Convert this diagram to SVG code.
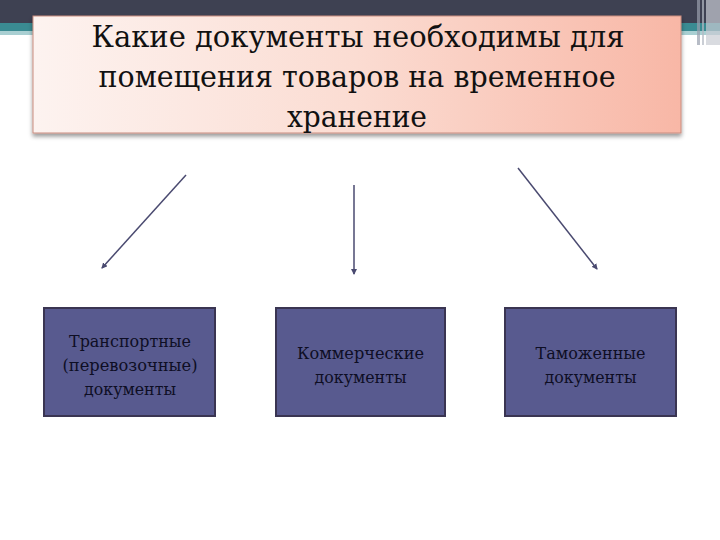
<svg xmlns="http://www.w3.org/2000/svg" width="720" height="540" viewBox="0 0 720 540">
<style>
.title{font-family:"DejaVu Serif",serif;font-size:30px;fill:#111;text-anchor:middle}
.box{fill:#585a8f;stroke:#3a3552;stroke-width:2}
.lbl{font-family:"DejaVu Serif",serif;font-size:16.5px;fill:#0e0e24;text-anchor:middle}
.con{stroke:#4a4a70;stroke-width:1.5;fill:none;marker-end:url(#ah)}
</style>
<defs>
<linearGradient id="tg" x1="0" y1="0" x2="1" y2="0">
<stop offset="0" stop-color="#fdf3f0"/>
<stop offset="0.5" stop-color="#fbdcd2"/>
<stop offset="1" stop-color="#f8b7a6"/>
</linearGradient>
<filter id="sh" x="-5%" y="-10%" width="110%" height="130%">
<feDropShadow dx="0" dy="3" stdDeviation="2" flood-color="#000" flood-opacity="0.4"/>
</filter>
<marker id="ah" markerWidth="6" markerHeight="6" refX="5" refY="3" orient="auto" markerUnits="userSpaceOnUse">
<path d="M0,0 L6,3 L0,6 z" fill="#4a4a70"/>
</marker>
</defs>
<rect width="720" height="540" fill="#ffffff"/>
<rect x="0" y="0" width="720" height="23" fill="#3e4152"/>
<rect x="0" y="23" width="720" height="8" fill="#3a8b92"/>
<rect x="0" y="31" width="720" height="4" fill="#a9cfd2"/>
<g opacity="0.7">
<rect x="697" y="0" width="3" height="45" fill="#9aa0ae"/>
<rect x="702" y="0" width="2" height="45" fill="#b5bac4"/>
<rect x="706" y="0" width="14" height="45" fill="#c9ccd4"/>
</g>
<g id="title">
<rect x="33" y="16" width="648" height="117" fill="url(#tg)" stroke="#c98d80" stroke-width="1" filter="url(#sh)"/>
<text class="title" x="358" y="47" textLength="533" lengthAdjust="spacingAndGlyphs">Какие документы необходимы для</text>
<text class="title" x="357" y="87" textLength="517" lengthAdjust="spacingAndGlyphs">помещения товаров на временное</text>
<text class="title" x="357" y="127" textLength="140" lengthAdjust="spacingAndGlyphs">хранение</text>
</g>
<g id="connectors">
<line class="con" x1="186" y1="175" x2="102" y2="268"/>
<line class="con" x1="354" y1="185" x2="354" y2="274"/>
<line class="con" x1="518" y1="168" x2="597" y2="269"/>
</g>
<g id="n1">
<rect class="box" x="44" y="308" width="171" height="108"/>
<text class="lbl" x="130" y="347" textLength="122" lengthAdjust="spacingAndGlyphs">Транспортные</text>
<text class="lbl" x="130" y="371" textLength="135" lengthAdjust="spacingAndGlyphs">(перевозочные)</text>
<text class="lbl" x="130" y="395" textLength="92" lengthAdjust="spacingAndGlyphs">документы</text>
</g>
<g id="n2">
<rect class="box" x="276" y="308" width="169" height="108"/>
<text class="lbl" x="360.5" y="359" textLength="127" lengthAdjust="spacingAndGlyphs">Коммерческие</text>
<text class="lbl" x="360.5" y="383" textLength="92" lengthAdjust="spacingAndGlyphs">документы</text>
</g>
<g id="n3">
<rect class="box" x="505" y="308" width="171" height="108"/>
<text class="lbl" x="590.5" y="359" textLength="110" lengthAdjust="spacingAndGlyphs">Таможенные</text>
<text class="lbl" x="590.5" y="383" textLength="92" lengthAdjust="spacingAndGlyphs">документы</text>
</g>
</svg>
